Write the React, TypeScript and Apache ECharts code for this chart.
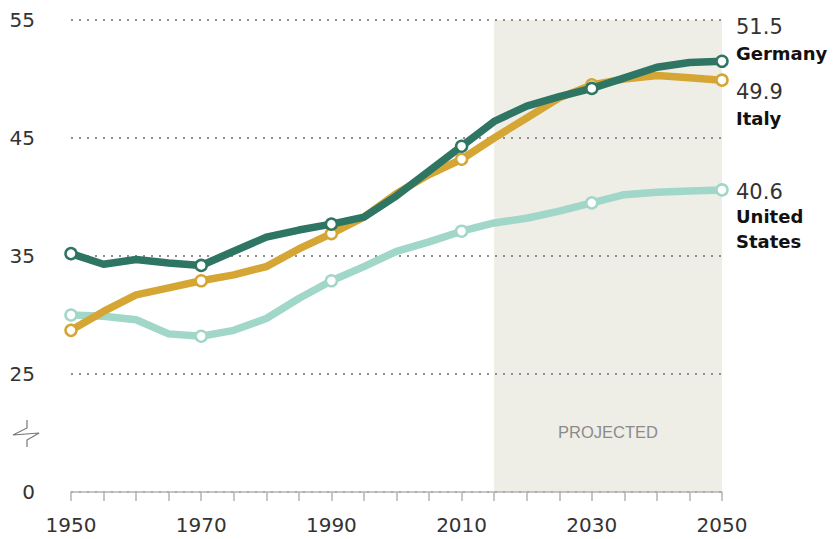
import React, { useEffect, useRef } from "react";
import * as echarts from "echarts";

const years = [1950, 1955, 1960, 1965, 1970, 1975, 1980, 1985, 1990, 1995, 2000, 2005, 2010, 2015, 2020, 2025, 2030, 2035, 2040, 2045, 2050];
const germany = [35.2, 34.3, 34.7, 34.4, 34.2, 35.4, 36.6, 37.2, 37.7, 38.3, 40.1, 42.2, 44.3, 46.4, 47.7, 48.5, 49.2, 50.1, 51.0, 51.4, 51.5];
const italy = [28.7, 30.3, 31.7, 32.3, 32.9, 33.4, 34.1, 35.6, 36.9, 38.3, 40.3, 41.9, 43.2, 45.0, 46.7, 48.4, 49.5, 50.0, 50.3, 50.1, 49.9];
const unitedStates = [30.0, 29.9, 29.6, 28.4, 28.2, 28.7, 29.7, 31.4, 32.9, 34.1, 35.4, 36.2, 37.1, 37.8, 38.2, 38.8, 39.5, 40.2, 40.4, 40.5, 40.6];
const markerYears = [1950, 1970, 1990, 2010, 2030, 2050];
const yTickLabels = ["0", "25", "35", "45", "55"];
const xLabelYears = [1950, 1970, 1990, 2010, 2030, 2050];
const projectedRange = [2015, 2050];
const projectedLabel = "PROJECTED";

// axis break: 0 .. 25 is compressed; values >= 25 are shifted by 15 on the axis
const AXIS_SHIFT = 15;
const toAxis = (v: number) => (v === 0 ? 0 : v - AXIS_SHIFT);

const COLORS = { germany: "#2e7663", italy: "#d5a633", us: "#a1d7c8" };

function buildSeries(name: string, values: number[], color: string, z: number) {
  return {
    name,
    type: "line",
    z,
    data: years.map((yr, i) => ({
      value: [yr, toAxis(values[i])],
      symbol: markerYears.includes(yr) ? "circle" : "none",
    })),
    symbolSize: 11,
    lineStyle: { color, width: 7.5, join: "round", cap: "round" },
    itemStyle: { color: "#ffffff", borderColor: color, borderWidth: 2.5 },
    emphasis: { disabled: true },
  };
}

export default function App() {
  const ref = useRef<HTMLDivElement>(null);
  useEffect(() => {
    if (!ref.current) return;
    const chart = echarts.init(ref.current, null, { renderer: "svg" });
    const numFont = "DejaVu Sans";
    const endLabels = [
      { text: germany[germany.length - 1].toFixed(1), y: 27, bold: false },
      { text: "Germany", y: 53, bold: true },
      { text: italy[italy.length - 1].toFixed(1), y: 92, bold: false },
      { text: "Italy", y: 118, bold: true },
      { text: unitedStates[unitedStates.length - 1].toFixed(1), y: 192, bold: false },
      { text: "United", y: 216, bold: true },
      { text: "States", y: 241, bold: true },
    ];
    chart.setOption({
      animation: false,
      backgroundColor: "#ffffff",
      grid: { left: 71, right: 116, top: 20, bottom: 47 },
      xAxis: {
        type: "value",
        min: 1950,
        max: 2050,
        interval: 5,
        z: 2,
        axisLine: { show: true, lineStyle: { color: "#b3b3b3", width: 1.5 } },
        axisTick: { show: true, length: 9, lineStyle: { color: "#b3b3b3", width: 1.5 } },
        splitLine: { show: false },
        axisLabel: {
          margin: 23,
          fontSize: 20,
          fontFamily: numFont,
          color: "#333333",
          formatter: (v: number) => (xLabelYears.includes(v) ? String(v) : ""),
        },
      },
      yAxis: {
        type: "value",
        min: 0,
        max: 40,
        interval: 10,
        z: 2,
        axisLine: { show: false },
        axisTick: { show: false },
        splitLine: {
          show: true,
          lineStyle: { color: "#8f8f8f", width: 2, type: [2, 6] },
        },
        axisLabel: {
          margin: 36,
          fontSize: 20,
          fontFamily: numFont,
          color: "#333333",
          formatter: (v: number) => yTickLabels[Math.round(v / 10)] ?? "",
        },
      },
      series: [
        {
          name: "projected",
          type: "line",
          z: 1,
          data: [],
          markArea: {
            silent: true,
            z: 1,
            itemStyle: { color: "#efeee6" },
            label: {
              show: true,
              position: "insideBottom",
              distance: 52,
              color: "#8a8a8a",
              fontSize: 16.5,
              fontFamily: "Liberation Sans",
              formatter: projectedLabel,
            },
            data: [[{ xAxis: projectedRange[0] }, { xAxis: projectedRange[1] }]],
          },
        },
        buildSeries("United States", unitedStates, COLORS.us, 3),
        buildSeries("Italy", italy, COLORS.italy, 4),
        buildSeries("Germany", germany, COLORS.germany, 5),
      ],
      graphic: [
        {
          type: "polyline",
          shape: { points: [[27, 420], [27, 428], [13, 435], [39, 433], [27, 440], [27, 447]] },
          style: { stroke: "#777777", lineWidth: 1.2, fill: null },
        },
        ...endLabels.map((l) => ({
          type: "text",
          x: 736,
          y: l.y,
          style: {
            text: l.text,
            fontFamily: numFont,
            fontSize: l.bold ? 18 : 21,
            fontWeight: l.bold ? "bold" : "normal",
            fill: l.bold ? "#111111" : "#333333",
            verticalAlign: "middle",
            align: "left",
          },
        })),
      ],
    });
    return () => chart.dispose();
  }, []);
  return (
    <div
      ref={ref}
      style={{ position: "absolute", left: 0, top: 0, width: 838, height: 539 }}
    />
  );
}
